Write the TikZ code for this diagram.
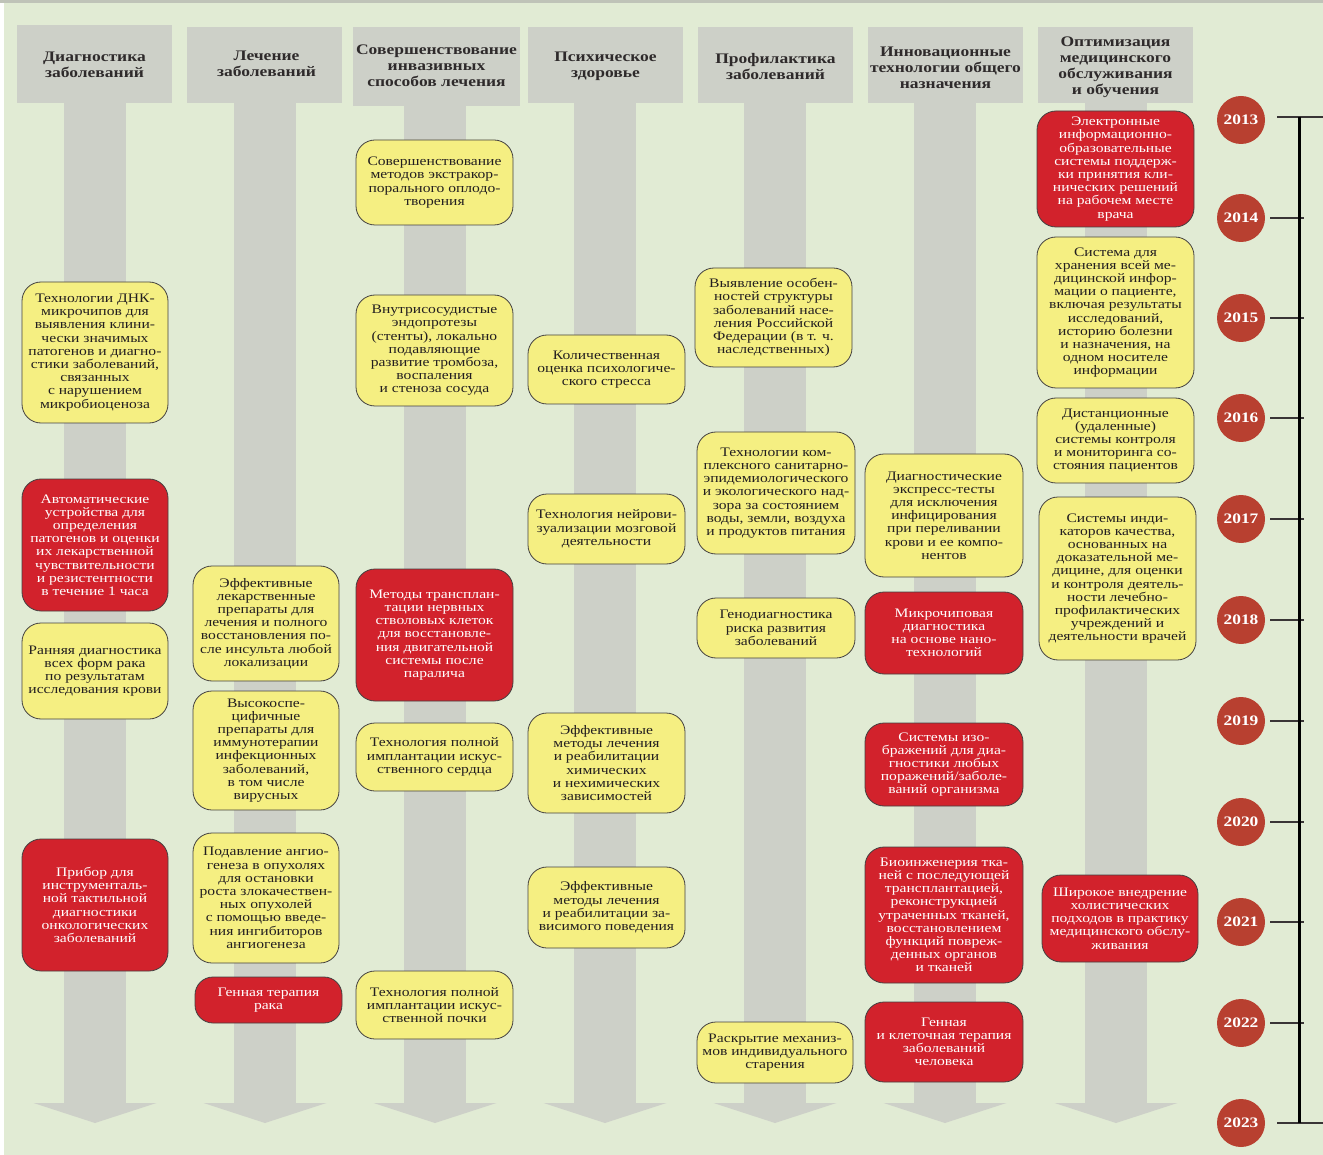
\documentclass[tikz,border=0pt]{standalone}
\usepackage{fontspec}
\setmainfont{Liberation Serif}[FakeStretch=1.2]
\definecolor{bggreen}{HTML}{E1EBD4}
\definecolor{topgrey}{HTML}{BFC3B8}
\definecolor{stemgrey}{HTML}{CDD0C8}
\definecolor{boxyellow}{HTML}{F5EF82}
\definecolor{boxred}{HTML}{D2222C}
\definecolor{yearred}{HTML}{B84030}
\definecolor{inkdark}{HTML}{231F20}
\tikzset{
  basebox/.style={draw=inkdark!85, line width=0.8pt, rounded corners=19pt, align=center, inner sep=1pt,
    font=\fontsize{13}{13.2}\selectfont},
  ybox/.style={basebox, fill=boxyellow, text=inkdark},
  rbox/.style={basebox, fill=boxred, text=white},
  header/.style={fill=stemgrey, align=center, text=inkdark!95, inner sep=0pt,
    font=\bfseries\fontsize{14.6}{16}\selectfont},
  htext/.style={align=center, text=inkdark!95, inner sep=0pt,
    font=\bfseries\fontsize{14.6}{16}\selectfont},
  yearnode/.style={circle, fill=yearred, text=white, minimum size=48pt, inner sep=0pt,
    font=\bfseries\fontsize{14.5}{15}\selectfont},
  ticksty/.style={draw=inkdark!90, line width=1.2pt},
  stemsty/.style={fill=stemgrey}
}
\newcommand{\stem}[1]{%
  \fill[stemsty] (#1-31,100) rectangle (#1+31,1103);
  \fill[stemsty] (#1-61.5,1103) -- (#1+61.5,1103) -- (#1,1123) -- cycle;}
\begin{document}
\begin{tikzpicture}[x=1pt,y=-1pt]
\useasboundingbox (0,0) rectangle (1323,1155);
\fill[white] (0,0) rectangle (1323,1155);
\fill[bggreen] (4,3) rectangle (1323,1155);
\fill[topgrey] (0,0) rectangle (1323,3);
% headers
\node[header, minimum width=155pt, minimum height=78pt] (h1) at (94.5,64) {};
\node[header, minimum width=155pt, minimum height=76pt] (h2) at (264.5,65) {};
\node[header, minimum width=167pt, minimum height=79pt] (h3) at (436.5,66.5) {};
\node[header, minimum width=155pt, minimum height=76pt] (h4) at (605.5,65) {};
\node[header, minimum width=155pt, minimum height=76pt] (h5) at (775.5,65) {};
\node[header, minimum width=155pt, minimum height=76pt] (h6) at (945.5,65) {};
\node[header, minimum width=155pt, minimum height=76pt] (h7) at (1115.5,65) {};
\node[htext] (t1) at (94.5,65) {Диагностика\\заболеваний};
\node[htext] (t2) at (266.5,63.5) {Лечение\\заболеваний};
\node[htext] (t3) at (436.5,66) {Совершенствование\\инвазивных\\способов лечения};
\node[htext] (t4) at (605.5,66.5) {Психическое\\здоровье};
\node[htext] (t5) at (775.5,67) {Профилактика\\заболеваний};
\node[htext] (t6) at (945.5,67.5) {Инновационные\\технологии общего\\назначения};
\node[htext] (t7) at (1115.5,67.5) {Оптимизация\\медицинского\\обслуживания\\и обучения};
% stems
\stem{95}\stem{265}\stem{435}\stem{605}\stem{775}\stem{945}\stem{1116}
% column 1
\node[ybox, minimum width=146pt, minimum height=141pt] (c1a) at (95,352.5) {Технологии ДНК-\\микрочипов для\\выявления клини-\\чески значимых\\патогенов и диагно-\\стики заболеваний,\\связанных\\с нарушением\\микробиоценоза};
\node[rbox, minimum width=146pt, minimum height=132pt] (c1b) at (95,545) {Автоматические\\устройства для\\определения\\патогенов и оценки\\их лекарственной\\чувствительности\\и резистентности\\в течение 1 часа};
\node[ybox, minimum width=146pt, minimum height=96pt] (c1c) at (95,671) {Ранняя диагностика\\всех форм рака\\по результатам\\исследования крови};
\node[rbox, minimum width=146pt, minimum height=132pt] (c1d) at (95,905) {Прибор для\\инструменталь-\\ной тактильной\\диагностики\\онкологических\\заболеваний};
% column 2
\node[ybox, minimum width=146pt, minimum height=115pt] (c2a) at (266,623.5) {Эффективные\\лекарственные\\препараты для\\лечения и полного\\восстановления по-\\сле инсульта любой\\локализации};
\node[ybox, minimum width=146pt, minimum height=119pt] (c2b) at (266,750.5) {Высокоспе-\\цифичные\\препараты для\\иммунотерапии\\инфекционных\\заболеваний,\\в том числе\\вирусных};
\node[ybox, minimum width=146pt, minimum height=130pt] (c2c) at (266,898) {Подавление ангио-\\генеза в опухолях\\для остановки\\роста злокачествен-\\ных опухолей\\с помощью введе-\\ния ингибиторов\\ангиогенеза};
\node[rbox, minimum width=147pt, minimum height=46pt, rounded corners=18pt] (c2d) at (268.5,1000) {Генная терапия\\рака};
% column 3
\node[ybox, minimum width=157pt, minimum height=85pt] (c3a) at (434.5,182.5) {Совершенствование\\методов экстракор-\\порального оплодо-\\творения};
\node[ybox, minimum width=157pt, minimum height=111pt] (c3b) at (434.5,350.5) {Внутрисосудистые\\эндопротезы\\(стенты), локально\\подавляющие\\развитие тромбоза,\\воспаления\\и стеноза сосуда};
\node[rbox, minimum width=157pt, minimum height=132pt] (c3c) at (434.5,635) {Методы трансплан-\\тации нервных\\стволовых клеток\\для восстановле-\\ния двигательной\\системы после\\паралича};
\node[ybox, minimum width=157pt, minimum height=68pt] (c3d) at (434.5,757) {Технология полной\\имплантации искус-\\ственного сердца};
\node[ybox, minimum width=157pt, minimum height=68pt] (c3e) at (434.5,1005) {Технология полной\\имплантации искус-\\ственной почки};
% column 4
\node[ybox, minimum width=157pt, minimum height=69pt] (c4a) at (606.5,369.5) {Количественная\\оценка психологиче-\\ского стресса};
\node[ybox, minimum width=157pt, minimum height=70pt] (c4b) at (606.5,529) {Технология нейрови-\\зуализации мозговой\\деятельности};
\node[ybox, minimum width=157pt, minimum height=100pt] (c4c) at (606.5,763) {Эффективные\\методы лечения\\и реабилитации\\химических\\и нехимических\\зависимостей};
\node[ybox, minimum width=157pt, minimum height=81pt] (c4d) at (606.5,907.5) {Эффективные\\методы лечения\\и реабилитации за-\\висимого поведения};
% column 5
\node[ybox, minimum width=157pt, minimum height=99pt] (c5a) at (773.5,317.5) {Выявление особен-\\ностей структуры\\заболеваний насе-\\ления Российской\\Федерации (в т. ч.\\наследственных)};
\node[ybox, minimum width=158pt, minimum height=122pt] (c5b) at (776,493) {Технологии ком-\\плексного санитарно-\\эпидемиологического\\и экологического над-\\зора за состоянием\\воды, земли, воздуха\\и продуктов питания};
\node[ybox, minimum width=158pt, minimum height=60pt] (c5c) at (776,628) {Генодиагностика\\риска развития\\заболеваний};
\node[ybox, minimum width=156pt, minimum height=61pt] (c5d) at (775,1052.5) {Раскрытие механиз-\\мов индивидуального\\старения};
% column 6
\node[ybox, minimum width=158pt, minimum height=123pt] (c6a) at (944,515.5) {Диагностические\\экспресс-тесты\\для исключения\\инфицирования\\при переливании\\крови и ее компо-\\нентов};
\node[rbox, minimum width=158pt, minimum height=82pt] (c6b) at (944,633) {Микрочиповая\\диагностика\\на основе нано-\\технологий};
\node[rbox, minimum width=158pt, minimum height=83pt] (c6c) at (944,764.5) {Системы изо-\\бражений для диа-\\гностики любых\\поражений/заболе-\\ваний организма};
\node[rbox, minimum width=158pt, minimum height=136pt] (c6d) at (944,915) {Биоинженерия тка-\\ней с последующей\\трансплантацией,\\реконструкцией\\утраченных тканей,\\восстановлением\\функций повреж-\\денных органов\\и тканей};
\node[rbox, minimum width=158pt, minimum height=80pt] (c6e) at (944,1042) {Генная\\и клеточная терапия\\заболеваний\\человека};
% column 7
\node[rbox, minimum width=157pt, minimum height=116pt] (c7a) at (1115.5,169) {Электронные\\информационно-\\образовательные\\системы поддерж-\\ки принятия кли-\\нических решений\\на рабочем месте\\врача};
\node[ybox, minimum width=157pt, minimum height=151pt] (c7b) at (1115.5,312.5) {Система для\\хранения всей ме-\\дицинской инфор-\\мации о пациенте,\\включая результаты\\исследований,\\историю болезни\\и назначения, на\\одном носителе\\информации};
\node[ybox, minimum width=157pt, minimum height=85pt] (c7c) at (1115.5,440.5) {Дистанционные\\(удаленные)\\системы контроля\\и мониторинга со-\\стояния пациентов};
\node[ybox, minimum width=157pt, minimum height=163pt] (c7d) at (1117.5,578.5) {Системы инди-\\каторов качества,\\основанных на\\доказательной ме-\\дицине, для оценки\\и контроля деятель-\\ности лечебно-\\профилактических\\учреждений и\\деятельности врачей};
\node[rbox, minimum width=156pt, minimum height=87pt] (c7e) at (1120,918.5) {Широкое внедрение\\холистических\\подходов в практику\\медицинского обслу-\\живания};
% timeline
\node[yearnode] (y2013) at (1241,120) {2013};
\node[yearnode] (y2014) at (1241,218) {2014};
\node[yearnode] (y2015) at (1241,318) {2015};
\node[yearnode] (y2016) at (1241,418) {2016};
\node[yearnode] (y2017) at (1241,519) {2017};
\node[yearnode] (y2018) at (1241,620) {2018};
\node[yearnode] (y2019) at (1241,721) {2019};
\node[yearnode] (y2020) at (1241,822) {2020};
\node[yearnode] (y2021) at (1241,922) {2021};
\node[yearnode] (y2022) at (1241,1023) {2022};
\node[yearnode] (y2023) at (1241,1123) {2023};
\coordinate (ltop) at (1299,117);
\coordinate (lbot) at (1299,1123);
\coordinate (stop) at (1277,117);
\coordinate (sbot) at (1277,1123);
\coordinate (etop) at (1323,117);
\coordinate (ebot) at (1323,1123);
\draw[ticksty] (stop) -- (etop);
\draw[ticksty] (sbot) -- (ebot);
\foreach \yr in {2014,2015,2016,2017,2018,2019,2020,2021,2022}{
  \draw[ticksty] ([xshift=5pt]y\yr.east) -- ([xshift=5pt]y\yr.east -| ltop);
}
\draw[line width=3pt, black] (ltop) -- (lbot);
\end{tikzpicture}
\end{document}
